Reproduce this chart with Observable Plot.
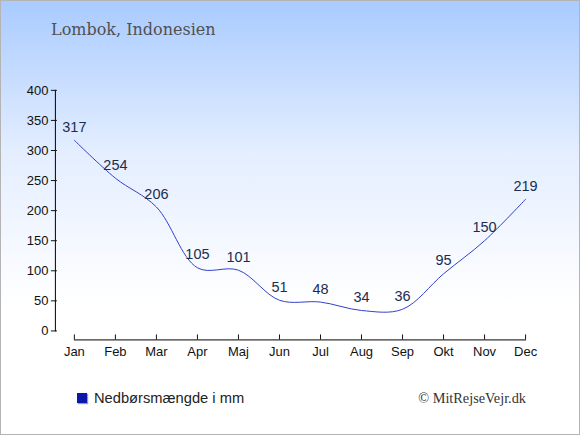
<!DOCTYPE html>
<html>
<head>
<meta charset="utf-8">
<script src="https://cdn.jsdelivr.net/npm/d3@7"></script>
<script src="https://cdn.jsdelivr.net/npm/@observablehq/plot@0.6"></script>
<style>
  html, body { margin: 0; padding: 0; }
  #wrap {
    position: relative; width: 580px; height: 435px; box-sizing: border-box;
    border: 1px solid #b4b4b4;
    background: linear-gradient(to bottom, #a9cbff 0%, #e4eeff 35%, #ffffff 70%, #ffffff 100%);
    overflow: hidden;
  }
  #title {
    position: absolute; left: 50px; top: 19px;
    font-family: "DejaVu Serif", serif; font-size: 16px; color: #505050;
  }
  #legend {
    position: absolute; left: 76px; top: 389px;
    font-family: "Liberation Sans", Arial, sans-serif; font-size: 14.7px; color: #222;
    display: flex; align-items: center;
  }
  #legend .sw { width: 10px; height: 10px; background: #0818a8; box-shadow: 1px 1px 1px #99a; margin-right: 7px; }
  #copy {
    position: absolute; right: 53px; top: 389px;
    font-family: "Liberation Serif", "Times New Roman", serif; font-size: 14.3px; color: #333;
  }
  #chart { position: absolute; left: -1px; top: -1px; }
  #chart svg { background: transparent; }
</style>
</head>
<body>
<div id="wrap">
  <div id="chart"></div>
  <div id="title">Lombok, Indonesien</div>
  <div id="legend"><span class="sw"></span><span>Nedbørsmængde i mm</span></div>
  <div id="copy">© MitRejseVejr.dk</div>
</div>
<script>
const months = ["Jan","Feb","Mar","Apr","Maj","Jun","Jul","Aug","Sep","Okt","Nov","Dec"];
const rain = [317, 254, 206, 105, 101, 51, 48, 34, 36, 95, 150, 219];
const yTicks = [0, 50, 100, 150, 200, 250, 300, 350, 400];

const data = months.map((m, i) => ({i, month: m, value: rain[i]}));

const chart = Plot.plot({
  width: 580,
  height: 435,
  marginLeft: 74,
  marginRight: 54,
  marginTop: 90,
  marginBottom: 104,
  style: {background: "transparent", fontFamily: "Liberation Sans, Arial, sans-serif", fontSize: "13px", color: "#111"},
  x: {domain: [0, months.length - 1]},
  y: {domain: [0, 400]},
  marks: [
    Plot.frame({anchor: "left", dx: -19, stroke: "#000"}),
    Plot.frame({anchor: "bottom", dy: 9, stroke: "#000"}),
    Plot.axisY({anchor: "left", ticks: yTicks, dx: -17, tickSize: 6, tickPadding: 3, fontSize: 13, fill: "#111", label: null}),
    Plot.axisX({anchor: "bottom", ticks: d3.range(months.length), tickFormat: i => months[i], dy: 4, tickSize: 5, tickPadding: 7, fontSize: 13, fill: "#111", label: null}),
    Plot.line(data, {x: "i", y: "value", curve: "catmull-rom", stroke: "#3040c8", strokeWidth: 1}),
    Plot.text(data, {x: "i", y: "value", text: d => String(d.value), dy: -13, fill: "#1c2c50", fontSize: 14.5})
  ]
});
document.getElementById("chart").appendChild(chart);
</script>
</body>
</html>
